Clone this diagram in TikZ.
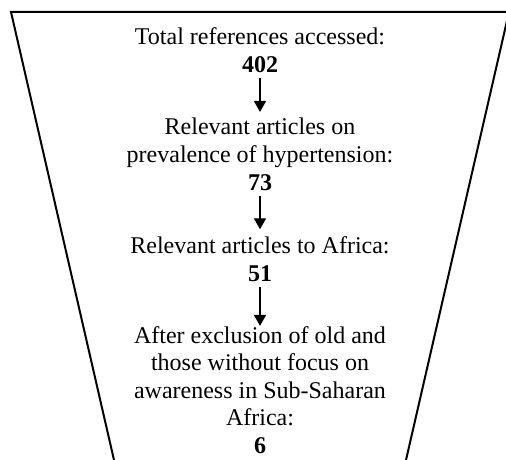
\documentclass[tikz,border=0pt]{standalone}
\usepackage{fontspec}
\setmainfont{Liberation Serif}
\usetikzlibrary{arrows.meta}
\begin{document}
\begin{tikzpicture}[
        x=1pt, y=-1pt,
        txt/.style={align=center, inner sep=0pt, anchor=base, font=\fontsize{24pt}{27.6pt}\selectfont},
        flow/.style={line width=1.2pt, shorten <=5.5pt, shorten >=6pt, -{Triangle[length=11pt, width=12pt]}}
    ]
    \clip (0,0) rectangle (506,460);
    % funnel outline, open at the bottom
    \draw[line width=2pt, line join=miter] (118.6,480) -- (11,12) -- (509,12) -- (401.4,480);
    \node[txt] (total) at (260,72.5) {Total references accessed:\\\textbf{402}};
    \node[txt] (prev) at (260,190) {Relevant articles on\\prevalence of hypertension:\\\textbf{73}};
    \node[txt] (africa) at (260,281) {Relevant articles to Africa:\\\textbf{51}};
    \node[txt] (final) at (260,453.4) {After exclusion of old and\\those without focus on\\awareness in Sub-Saharan\\Africa:\\\textbf{6}};
    \draw[flow] (total.south) -- (prev.north);
    \draw[flow, shorten >=7pt] (prev.south) -- (africa.north);
    \draw[flow, shorten >=0pt] (africa.south) -- (final.north);
\end{tikzpicture}
\end{document}
